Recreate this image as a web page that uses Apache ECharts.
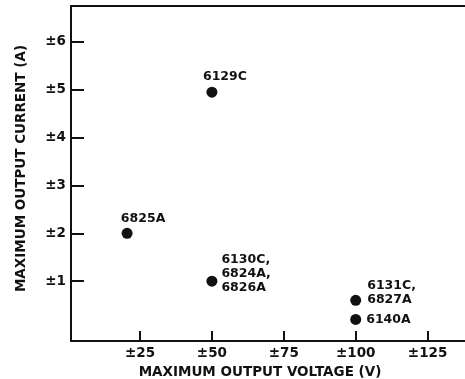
<!DOCTYPE html>
<html>
<head>
<meta charset="utf-8">
<script src="https://cdn.jsdelivr.net/npm/echarts@6/dist/echarts.min.js"></script>
<style>html,body{margin:0;padding:0;background:#fff}#c{width:465px;height:379px}</style>
</head>
<body>
<div id="c"></div>
<script>
// Data
var models = ['6825A', '6129C', '6130C,\n6824A,\n6826A', '6131C,\n6827A', '6140A'];
var voltages = [20.5, 50, 50, 100, 100];
var currents = [2, 4.95, 1, 0.6, 0.2];
var xTicks = [25, 50, 75, 100, 125];
var yTicks = [1, 2, 3, 4, 5, 6];
var xTitle = 'MAXIMUM OUTPUT VOLTAGE (V)';
var yTitle = 'MAXIMUM OUTPUT CURRENT (A)';

var ink = '#111111';
var font = 'DejaVu Sans';

// label placement style per point (presentation only)
var labelStyles = [
  {position: 'top', distance: 2, offset: [16, 0]},
  {position: 'top', distance: 3, offset: [13, 0]},
  {position: 'right', distance: 4, offset: [0, -7.5]},
  {position: 'right', distance: 6, offset: [0, -8]},
  {position: 'right', distance: 5, offset: [0, 0]}
];

var data = models.map(function (m, i) {
  return {
    name: m,
    value: [voltages[i], currents[i]],
    label: Object.assign({
      show: true,
      formatter: m,
      color: ink,
      fontFamily: font,
      fontWeight: 'bold',
      fontSize: 12.5,
      lineHeight: 14,
      align: labelStyles[i].position === 'right' ? 'left' : 'center'
    }, labelStyles[i])
  };
});

var chart = echarts.init(document.getElementById('c'), null, {renderer: 'canvas'});
chart.setOption({
  backgroundColor: '#fff',
  animation: false,
  grid: {left: 71, top: 6, right: 0, bottom: 38, containLabel: false, outerBoundsMode: 'none'},
  xAxis: [{
    type: 'value',
    min: 1, max: 138,
    position: 'bottom',
    splitLine: {show: false},
    axisLine: {show: true, onZero: false, lineStyle: {color: ink, width: 2}},
    axisTick: {show: true, inside: true, length: 10, lineStyle: {color: ink, width: 2}, customValues: xTicks},
    axisLabel: {
      show: true, customValues: xTicks, margin: 5.5,
      color: ink, fontFamily: font, fontWeight: 'bold', fontSize: 13.5,
      formatter: function (v) { return '\u00b1' + v; }
    },
    name: xTitle,
    nameLocation: 'middle',
    nameGap: 24,
    nameTextStyle: {color: ink, fontFamily: font, fontWeight: 'bold', fontSize: 13.5, padding: [0, 16, 0, 0]}
  }, {
    type: 'value',
    min: 1, max: 138,
    position: 'top',
    splitLine: {show: false},
    axisLine: {show: true, onZero: false, lineStyle: {color: ink, width: 2}},
    axisTick: {show: false},
    axisLabel: {show: false}
  }],
  yAxis: {
    type: 'value',
    min: -0.25, max: 6.75,
    splitLine: {show: false},
    axisLine: {show: true, onZero: false, lineStyle: {color: ink, width: 2}},
    axisTick: {show: true, inside: true, length: 13, lineStyle: {color: ink, width: 2}, customValues: yTicks},
    axisLabel: {
      show: true, customValues: yTicks, margin: 5,
      color: ink, fontFamily: font, fontWeight: 'bold', fontSize: 13.5,
      formatter: function (v) { return '\u00b1' + v; }
    },
    name: yTitle,
    nameLocation: 'middle',
    nameGap: 43,
    nameRotate: 90,
    nameTextStyle: {color: ink, fontFamily: font, fontWeight: 'bold', fontSize: 13.5, padding: [0, 0, 0, 10]}
  },
  series: [{
    type: 'scatter',
    xAxisIndex: 0,
    symbol: 'circle',
    symbolSize: 11,
    itemStyle: {color: ink, opacity: 1},
    data: data
  }]
});
</script>
</body>
</html>
